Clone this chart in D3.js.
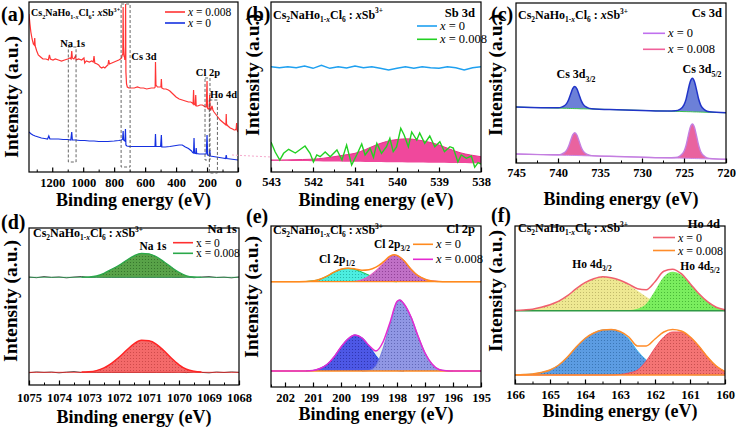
<!DOCTYPE html>
<html><head><meta charset="utf-8">
<script src="https://cdn.jsdelivr.net/npm/d3@7"></script>
<style>
body{margin:0;background:#fff}
svg{display:block}
text{font-family:"Times New Roman","Liberation Serif",serif;white-space:pre}
</style>
</head><body>
<svg id="chart" width="736" height="429"></svg>
<script>
// ---------------- DATA ----------------
const dopings = ["0", "0.008"];
// (a) survey spectra
const surveyTicks = [1200,1000,800,600,400,200,0];
const redE = [1350,1344,1338,1330,1322,1316,1313,1310,1300,1290,1275,1260,1240,1225,1218,1212,1195,1180,1160,1140,1120,1100,1085,1078,1074,1070,1060,1050,1045,1030,1010,995,990,980,960,945,935,930,925,910,900,890,880,870,860,848,840,835,830,815,800,785,770,760,752,748,744,742,740,737,733,731,728,726,724,720,715,705,690,670,650,630,610,590,560,540,535,533,530,520,505,498,495,492,480,465,450,440,420,400,380,360,340,320,305,295,290,287,284,276,273,270,260,245,230,220,212,205,200,197,192,186,183,180,175,168,162,155,145,130,115,100,85,78,76,74,65,50,35,25,18,12,9,6,3,0];
const redV = [158,148,140,133,128,127,134,126,121,117,115,113,113,112,117,113,112,113,112,111,112,113,114,113,121,114,113,116,112,113,112,114,109,111,110,111,110,116,109,108,107,105,104,105,104,106,107,112,108,109,110,111,112,113,114,117,118,165,125,116,115,112,118,168,100,88,85,84,84,84,85,84,84,83,84,84,85,110,87,85,85,85,93,84,83,83,82,81,78,75,73,72,71,70,70,69,68,82,68,67,77,66,66,67,67,66,65,65,91,64,63,64,77,62,62,66,62,60,58,55,52,50,48,47,58,48,46,44,43,42,42,43,49,42,41,40];
const blueE = [1350,1340,1325,1310,1290,1270,1250,1230,1222,1215,1190,1160,1130,1100,1080,1074,1070,1050,1020,990,960,930,900,870,840,800,770,752,745,742,739,730,727,724,718,700,670,640,600,560,536,533,530,500,495,492,470,440,420,400,380,360,340,320,300,293,287,284,281,273,270,267,250,230,205,200,196,185,182,179,160,140,120,100,80,76,72,50,25,0];
const blueV = [40,38.5,37,36,35,34,33.5,33,36,33,33,33,32.5,32.5,32,40,32,32,31.5,31.5,31,31,30.5,30.5,30.5,31,31.5,32,33,41,32,31,43,27,26,25.5,25.5,25.5,25.5,25.5,25.5,38,25.5,25.5,37,25,25,25.5,26,26.5,27,27,25,23.5,21,19.5,19,34,19,18.5,24,18.5,18,18,18,37,17,16.5,22,16,15.5,15,14.5,14,13.5,17,13.5,13,12.5,12];
const surveyBoxes = [ // [E1,E2,v1,v2,label,labelE,labelV]
  [1096,1046,125,10,"Na 1s",1068,125],
  [755,697,168,5,"Cs 3d",607,112],
  [213,181,94,12,"Cl 2p",194,96],
  [185,133,72,-1,"Ho 4d",94,74]];

// (b) Sb 3d
const bTicks = [543,542,541,540,539,538];
const bBlueE = [543,542.8,542.6,542.4,542.2,542,541.8,541.6,541.4,541.2,541,540.8,540.6,540.4,540.2,540,539.8,539.6,539.4,539.2,539,538.8,538.6,538.4,538.2,538];
const bBlueV = [105.3,104.3,105.3,104.3,106,103.7,106.7,103.7,105.3,104,106,104.3,105.3,103.7,102,103.7,105.3,103.7,105.3,104.3,103.7,105.3,104.3,102,104.3,105.3];
const bGreenE = [543,542.9,542.79,542.7,542.58,542.42,542.19,542.07,541.99,541.91,541.83,541.71,541.59,541.43,541.31,541.2,541.08,540.96,540.84,540.76,540.64,540.56,540.48,540.37,540.25,540.17,540.09,540.01,539.91,539.83,539.73,539.65,539.53,539.46,539.34,539.22,539.1,538.98,538.87,538.74,538.66,538.55,538.47,538.35,538.23,538.15,538.07,538];
const bGreenV = [30,20,12,18.7,22.7,19,26,18.7,10,17,15.3,20,15.3,22,12,27,7,17,28,17,23.7,14.7,28.7,18.7,25.3,33.7,20.3,25,43.7,37,25.3,40,32,39,28.7,36,25.3,30.3,20.3,25.3,24,10,17,13.7,16,4.7,9.3,8];
const bFitE = [543,542.75,542.5,542.25,542,541.75,541.5,541.25,541,540.75,540.5,540.25,540,539.75,539.5,539.25,539,538.75,538.5,538.25,538];
const bFitV = [12,12,12.2,12.5,12.8,13.8,15.3,17,18.7,22.5,27,30.5,32.5,33.2,32,30,27,23,19.3,17,15.3];
const bFitBase = [11.3,11.2,11,10.9,10.7,10.6,10.5,10.3,10.2,10.1,10,9.8,9.7,9.6,9.4,9.3,9.2,9,8.9,8.8,8.7];

// (c) Cs 3d
const cTicks = [745,740,735,730,725,720];
const cE = [745,742,740,739.5,739,738.75,738.5,738.25,738,737.75,737.5,737.25,737,736.5,736,733,730,727,726,725.5,725,724.75,724.5,724.25,724,723.75,723.5,723.25,723,722.5,722,720];
const cUp = [56,55.3,55.2,56.1,59.1,63.0,68.8,74.3,76.4,74.2,68.6,62.6,58.6,55.4,54.3,53.3,52.6,51.9,52.2,53.6,58.1,63.9,73.2,81.5,84.7,81.3,72.9,63.7,57.6,52.8,51.2,50.3];
const cUpBase = [56,55.3,54.9,54.8,54.7,54.6,54.5,54.5,54.4,54.4,54.3,54.2,54.2,54.1,54.0,53.3,52.6,51.9,51.7,51.6,51.4,51.4,51.3,51.3,51.2,51.1,51.1,51.0,50.9,50.8,50.7,50.3];
const cLow = [9,8.4,8.2,9.2,12.3,16.4,22.4,28.1,30.3,28.0,22.2,16.1,11.9,8.6,7.4,6.5,5.8,5.2,5.5,7.0,11.7,17.8,27.1,35.7,39.0,35.6,26.8,17.5,11.2,6.3,4.6,3.7];
const cLowBase = [9,8.4,7.9,7.8,7.7,7.7,7.6,7.6,7.5,7.5,7.4,7.4,7.3,7.2,7.1,6.5,5.8,5.2,5.0,4.9,4.8,4.7,4.7,4.6,4.5,4.5,4.4,4.4,4.3,4.2,4.1,3.7];

// (d) Na 1s
const dTicks = [1075,1074,1073,1072,1071,1070,1069,1068];
const dUpBase = 107.7, dLowBase = 12.7;
const dPeakE = [1073.25,1073,1072.75,1072.5,1072.25,1072,1071.75,1071.5,1071.25,1071,1070.75,1070.5,1070.25,1070,1069.75,1069.5,1069.25];
const dGreen = [0,0.3,1.3,4,8,12,17,21.5,24,23.5,20.5,15.5,10,5,1.5,0.3,0];
const dRed = [0.2,0.5,1.7,4.5,9,15,22,28.5,32,31.5,28,21.5,14,7.5,3,1,0.2];
const dRawE = [1075,1074.75,1074.5,1074.25,1074,1073.75,1073.5,1073.25,1073,1072.75,1072.5,1072.25,1072,1071.75,1071.5,1071.25,1071,1070.75,1070.5,1070.25,1070,1069.75,1069.5,1069.25,1069,1068.75,1068.5,1068.25,1068];
const dUpRaw = [107.9,107.3,108.3,107.6,108.0,107.2,107.9,108.4,107.5,107.9,107.7,107.7,107.7,107.7,107.7,107.7,107.7,107.7,107.7,107.7,107.6,108.1,107.3,107.9,108.3,107.5,107.8,107.2,108.0];
const dLowRaw = [12.3,13.0,12.6,12.9,12.2,12.8,13.3,12.5,12.9,12.7,12.7,12.7,12.7,12.7,12.7,12.7,12.7,12.7,12.7,12.7,12.9,12.4,13.1,12.6,12.2,12.9,12.5,13.0,12.6];

// (e) Cl 2p
const eTicks = [202,201,200,199,198,197,196,195];
const eUpBase = 105.3, eLowBase = 16;
const eAE = [201.25,201,200.75,200.5,200.25,200,199.75,199.5,199.25,199,198.75,198.5,198.25,198];
const eA = [0.2,0.8,2.5,5.5,9.5,12.5,13.3,12.3,9.5,6.5,3.5,1.5,0.5,0.1];
const eBE = [199.75,199.5,199.25,199,198.75,198.5,198.25,198.1,198,197.75,197.5,197.25,197,196.75,196.5];
const eB = [0.2,0.5,2,5.5,11,18,25,26.7,26.2,21,12.5,6,2.5,0.8,0.2];
const eUE = [202.5,201.5,201.25,201,200.75,200.5,200.25,200,199.75,199.5,199.25,199,198.75,198.5,198.25,198.1,198,197.75,197.5,197.25,197,196.75,196.5,196.25,195];
const eU = [0,0.05,0.2,0.8,2.5,5.5,9.5,12.5,13.5,12.8,11.5,12,14.5,19.5,25.5,26.9,26.3,21,12.5,6,2.5,0.8,0.2,0,0];
const eCE = [201.25,201,200.75,200.5,200.25,200,199.75,199.5,199.25,199,198.75,198.5,198.25,198,197.75];
const eC = [0.1,0.5,2.5,6.5,14,24,32,36,33,25,15,7,2.5,0.5,0];
const eDE = [199.25,199,198.75,198.5,198.25,198,197.9,197.75,197.5,197.25,197,196.75,196.5,196.25,196];
const eD = [0,0.5,5,22,46,69,71,67,54,35,18,7,1.5,0.3,0];
const eLE = [202.5,201.25,201,200.75,200.5,200.25,200,199.75,199.5,199.25,199,198.75,198.5,198.25,198,197.9,197.75,197.5,197.25,197,196.75,196.5,196.25,196,195];
const eL = [0,0.1,0.5,2.5,6.5,14,24,32,36,33,25.5,20,29,48.5,69.5,71,67,54,35,18,7,1.5,0.3,0,0];

// (f) Ho 4d
const fTicks = [166,165,164,163,162,161,160];
const fUpBase = 73.3, fLowBase = 9;
const fE = [166,165.75,165.5,165.25,165,164.75,164.5,164.25,164,163.75,163.5,163.25,163,162.75,162.5,162.25,162,161.75,161.5,161.25,161,160.75,160.5,160.25,160];
const fYellow = [0.3,0.8,1.5,3.5,6,9.5,15,22,28,32,34,33,30.5,26,20,14,9,5.5,2.5,1,0.3,0.1,0,0,0];
const fGreen = [0,0,0,0,0,0,0,0,0,0,0,0,0,0.5,2,7,20,34,39,36,27,17,9,3.5,1];
const fUpEnv = [0.3,0.8,1.5,3.5,6,9.5,15,22,28,32,34,33,30.5,26.5,22,21,29,39.5,41.5,37,27.3,17.1,9,3.5,1];
const fBlue = [0.2,0.5,1,2.5,5,10,18,28,36.5,42,45,45.5,43,36,24,15,9,5,2.5,1,0.3,0.1,0,0,0];
const fRed = [0,0,0,0,0,0,0,0,0,0,0,0,0.5,2,5,14,27,38,43,43,38,29,18,9,3.5];
const fLowEnv = [0.2,0.5,1,2.5,5,10,18,28,36.5,42,45,45.5,43.5,38,29,29,36,43,45.5,44,38.3,29.1,18,9,3.5];

// ---------------- DRAWING ----------------
const svg = d3.select("#chart");
const defs = svg.append("defs");
const FONT = '"Times New Roman","Liberation Serif",serif';

function pat(id, bg, dot) {
  const p = defs.append("pattern").attr("id", id).attr("width", 3).attr("height", 3).attr("patternUnits", "userSpaceOnUse");
  p.append("rect").attr("width", 3).attr("height", 3).attr("fill", bg);
  p.append("circle").attr("cx", 1.5).attr("cy", 1.5).attr("r", 0.55).attr("fill", dot);
  return "url(#" + id + ")";
}

function T(sel, x, y, size, o) {
  o = o || {};
  const t = sel.append("text").attr("x", x).attr("y", y).attr("font-size", size).attr("font-family", FONT).attr("fill", "#000");
  if (o.bold !== false) t.attr("font-weight", "bold");
  if (o.anchor) t.attr("text-anchor", o.anchor);
  return t;
}

function chem(sel, x, y, size, sep) {
  const t = T(sel, x, y, size);
  const s = size * 0.62, dn = size * 0.28, up = size * 0.42;
  t.append("tspan").text("Cs");
  t.append("tspan").attr("font-size", s).attr("dy", dn).text("2");
  t.append("tspan").attr("dy", -dn).text("NaHo");
  t.append("tspan").attr("font-size", s).attr("dy", dn).text("1-");
  t.append("tspan").attr("font-size", s).attr("font-style", "italic").text("x");
  t.append("tspan").attr("dy", -dn).text("Cl");
  t.append("tspan").attr("font-size", s).attr("dy", dn).text("6");
  t.append("tspan").attr("dy", -dn).text(sep);
  t.append("tspan").attr("font-style", "italic").text("x");
  t.append("tspan").text("Sb");
  t.append("tspan").attr("font-size", s).attr("dy", -up).text("3+");
}

function subText(sel, x, y, size, main, sub, anchor) {
  const t = T(sel, x, y, size, {anchor: anchor || "middle"});
  t.append("tspan").text(main);
  t.append("tspan").attr("font-size", size * 0.65).attr("dy", size * 0.3).text(sub);
}

function legendItem(sel, x1, x2, y, color, value, italic, size) {
  sel.append("line").attr("x1", x1).attr("x2", x2).attr("y1", y).attr("y2", y).attr("stroke", color).attr("stroke-width", 1.6);
  const t = T(sel, x2 + 3, y + 4, size, {bold: false});
  t.append("tspan").attr("font-style", italic ? "italic" : "normal").text("x");
  t.append("tspan").text(" = " + value);
}

function minorsOf(ticks) {
  const out = [];
  for (let i = 0; i < ticks.length - 1; i++) out.push((ticks[i] + ticks[i + 1]) / 2);
  return out;
}

function panel(c) {
  const x = d3.scaleLinear().domain(c.xdom).range([c.left, c.right]);
  const y = d3.scaleLinear().domain(c.ydom).range([c.bottom, c.top]);
  const cid = "clip-" + c.id;
  defs.append("clipPath").attr("id", cid).append("rect")
    .attr("x", c.left).attr("y", c.top).attr("width", c.right - c.left).attr("height", c.bottom - c.top);
  const plot = svg.append("g").attr("clip-path", "url(#" + cid + ")");
  const top = svg.append("g");
  let minors = minorsOf(c.majors);
  if (c.extraMinors) minors = minors.concat(c.extraMinors);
  const gm = top.append("g").attr("transform", "translate(0," + c.bottom + ")")
    .call(d3.axisBottom(x).tickValues(minors).tickSize(-2.5).tickFormat(""));
  gm.select(".domain").remove();
  gm.selectAll("line").attr("stroke-width", 1);
  const ga = top.append("g").attr("transform", "translate(0," + c.bottom + ")")
    .call(d3.axisBottom(x).tickValues(c.majors).tickSize(-4.5).tickPadding(c.pad).tickFormat(d3.format("d")));
  ga.select(".domain").remove();
  ga.selectAll("line").attr("stroke-width", 1.2);
  ga.selectAll("text").attr("font-family", FONT).attr("font-weight", "bold").attr("font-size", 12.5).attr("fill", "#000");
  top.append("rect").attr("x", c.left).attr("y", c.top).attr("width", c.right - c.left).attr("height", c.bottom - c.top)
    .attr("fill", "none").attr("stroke", "#000").attr("stroke-width", 1.2);
  T(top, (c.left + c.right) / 2, c.xtY, 18, {anchor: "middle"}).text("Binding energy (eV)");
  top.append("text").attr("transform", "translate(" + c.ytX + "," + c.ytY + ") rotate(-90)")
    .attr("text-anchor", "middle").attr("font-size", 19.5).attr("font-weight", "bold").attr("font-family", FONT).text("Intensity (a.u.)");
  T(top, c.lx, c.ly, 20).text(c.letter);
  return {x, y, plot, top};
}

const lineGen = (p, curve) => d3.line().x(d => p.x(d[0])).y(d => p.y(d[1])).curve(curve || d3.curveLinear);
const areaGen = (p) => d3.area().x(d => p.x(d[0])).y0(d => p.y(d[2])).y1(d => p.y(d[1])).curve(d3.curveMonotoneX);
const mono = d3.curveMonotoneX;

// ===== (a) =====
{
  const p = panel({id: "a", left: 29, right: 238, top: 2, bottom: 172, xdom: [1350, 0], ydom: [0, 170],
    majors: surveyTicks, extraMinors: [1300], pad: 6, xtY: 206, ytX: 18, ytY: 97, lx: 1, ly: 21, letter: "(a)"});
  p.plot.append("path").datum(d3.zip(blueE, blueV)).attr("d", lineGen(p)).attr("fill", "none").attr("stroke", "#1530e0").attr("stroke-width", 1.2);
  p.plot.append("path").datum(d3.zip(redE, redV)).attr("d", lineGen(p)).attr("fill", "none").attr("stroke", "#ff3434").attr("stroke-width", 1.2);
  surveyBoxes.forEach(b => {
    p.top.append("rect").attr("x", p.x(b[0])).attr("y", p.y(b[2])).attr("width", p.x(b[1]) - p.x(b[0])).attr("height", p.y(b[3]) - p.y(b[2]))
      .attr("fill", "none").attr("stroke", "#555").attr("stroke-width", 0.9).attr("stroke-dasharray", "3,2");
    T(p.top, p.x(b[5]), p.y(b[6]), 10.5, {anchor: "middle"}).text(b[4]);
  });
  chem(p.top, 31, 16, 10, ": ");
  legendItem(p.top, 165, 185, 12, "#ff3434", dopings[1], true, 11.5);
  legendItem(p.top, 165, 185, 23, "#1530e0", dopings[0], true, 11.5);
  svg.append("line").attr("x1", 232).attr("x2", 271).attr("y1", 155).attr("y2", 157).attr("stroke", "#f5a8cc").attr("stroke-width", 1).attr("stroke-dasharray", "2,2");
}

// ===== (b) =====
{
  const p = panel({id: "b", left: 271, right: 481, top: 2, bottom: 172, xdom: [543, 538], ydom: [0, 170],
    majors: bTicks, pad: 5, xtY: 206, ytX: 259, ytY: 75, lx: 246, ly: 21, letter: "(b)"});
  const fit = bFitE.map((e, i) => [e, bFitV[i], bFitBase[i]]);
  p.plot.append("path").datum(fit).attr("d", areaGen(p)).attr("fill", "#f0489c");
  p.plot.append("path").datum(fit).attr("d", lineGen(p, mono)).attr("fill", "none").attr("stroke", "#e8308a").attr("stroke-width", 1);
  p.plot.append("path").datum(d3.zip(bGreenE, bGreenV)).attr("d", lineGen(p)).attr("fill", "none").attr("stroke", "#22d022").attr("stroke-width", 1.4);
  p.plot.append("path").datum(d3.zip(bBlueE, bBlueV)).attr("d", lineGen(p)).attr("fill", "none").attr("stroke", "#1ea0f0").attr("stroke-width", 1.4);
  chem(p.top, 273, 18.5, 12, " : ");
  T(p.top, 475, 17, 12.5, {anchor: "end"}).text("Sb 3d");
  legendItem(p.top, 417, 437, 26, "#1ea0f0", dopings[0], true, 12.5);
  legendItem(p.top, 417, 437, 39.3, "#22d022", dopings[1], true, 12.5);
}

// ===== (c) =====
{
  const p = panel({id: "c", left: 516, right: 726, top: 3, bottom: 163, xdom: [745, 720], ydom: [0, 160],
    majors: cTicks, pad: 5, xtY: 205, ytX: 502, ytY: 75, lx: 491, ly: 21, letter: "(c)"});
  const up = cE.map((e, i) => [e, cUp[i], cUpBase[i]]);
  const low = cE.map((e, i) => [e, cLow[i], cLowBase[i]]);
  p.plot.append("path").datum(low).attr("d", areaGen(p)).attr("fill", "#e9639f");
  p.plot.append("path").datum(cE.map((e, i) => [e, cLowBase[i]])).attr("d", lineGen(p)).attr("fill", "none").attr("stroke", "#c888e8").attr("stroke-width", 1);
  p.plot.append("path").datum(low).attr("d", lineGen(p, mono)).attr("fill", "none").attr("stroke", "#c47ee0").attr("stroke-width", 1.4);
  p.plot.append("path").datum(up).attr("d", areaGen(p)).attr("fill", "#6c80d8");
  p.plot.append("path").datum(cE.map((e, i) => [e, cUpBase[i]])).attr("d", lineGen(p)).attr("fill", "none").attr("stroke", "#3cc050").attr("stroke-width", 1);
  p.plot.append("path").datum(up).attr("d", lineGen(p, mono)).attr("fill", "none").attr("stroke", "#2034c8").attr("stroke-width", 1.5);
  chem(p.top, 518, 19, 12, " : ");
  T(p.top, 722, 17, 12.5, {anchor: "end"}).text("Cs 3d");
  legendItem(p.top, 643, 665, 33.3, "#c070ee", dopings[0], true, 12.5);
  legendItem(p.top, 643, 665, 49.3, "#f0609a", dopings[1], true, 12.5);
  subText(p.top, 576, 78, 12, "Cs 3d", "3/2");
  subText(p.top, 702, 73, 12, "Cs 3d", "5/2");
}

// ===== (d) =====
{
  const p = panel({id: "d", left: 29, right: 239, top: 228, bottom: 385, xdom: [1075, 1068], ydom: [0, 157],
    majors: dTicks, pad: 8, xtY: 423, ytX: 17, ytY: 301, lx: 1, ly: 229, letter: "(d)"});
  p.plot.append("path").datum(d3.zip(dRawE, dUpRaw)).attr("d", lineGen(p)).attr("fill", "none").attr("stroke", "#333").attr("stroke-width", 1);
  p.plot.append("path").datum(d3.zip(dRawE, dLowRaw)).attr("d", lineGen(p)).attr("fill", "none").attr("stroke", "#333").attr("stroke-width", 1);
  const g = dPeakE.map((e, i) => [e, dUpBase + dGreen[i], dUpBase]);
  const r = dPeakE.map((e, i) => [e, dLowBase + dRed[i], dLowBase]);
  p.plot.append("path").datum(g).attr("d", areaGen(p)).attr("fill", pat("pg", "#58a248", "#2f6e28"));
  p.plot.append("path").datum(g).attr("d", lineGen(p, mono)).attr("fill", "none").attr("stroke", "#2aa84a").attr("stroke-width", 1.3);
  p.plot.append("line").attr("x1", p.x(1075)).attr("x2", p.x(1068)).attr("y1", p.y(dUpBase)).attr("y2", p.y(dUpBase)).attr("stroke", "#3aa860").attr("stroke-width", 0.8);
  p.plot.append("path").datum(r).attr("d", areaGen(p)).attr("fill", pat("pr", "#f46a6a", "#c94444"));
  p.plot.append("path").datum(r).attr("d", lineGen(p, mono)).attr("fill", "none").attr("stroke", "#ff2424").attr("stroke-width", 1.5);
  p.plot.append("line").attr("x1", p.x(1075)).attr("x2", p.x(1068)).attr("y1", p.y(dLowBase)).attr("y2", p.y(dLowBase)).attr("stroke", "#ff3030").attr("stroke-width", 0.8);
  chem(p.top, 33, 237, 12, " : ");
  T(p.top, 237, 233, 12.5, {anchor: "end"}).text("Na 1s");
  legendItem(p.top, 173, 193, 242.7, "#ff3030", dopings[0], false, 11.5);
  legendItem(p.top, 173, 193, 253.3, "#2aa84a", dopings[1], false, 11.5);
  T(p.top, 153, 250, 11.5, {anchor: "middle"}).text("Na 1s");
}

// ===== (e) =====
{
  const p = panel({id: "e", left: 271, right: 481, top: 226, bottom: 387, xdom: [202.5, 195], ydom: [0, 161],
    majors: eTicks, extraMinors: [202.5], pad: 6.5, xtY: 420, ytX: 258, ytY: 297, lx: 246, ly: 223, letter: "(e)"});
  const mk = (E, V, base) => E.map((e, i) => [e, base + V[i], base]);
  const A = mk(eAE, eA, eUpBase), B = mk(eBE, eB, eUpBase), U = mk(eUE, eU, eUpBase);
  const C = mk(eCE, eC, eLowBase), D = mk(eDE, eD, eLowBase), L = mk(eLE, eL, eLowBase);
  p.plot.append("path").datum(L).attr("d", areaGen(p)).attr("fill", "#eef6ee");
  p.plot.append("path").datum(C).attr("d", areaGen(p)).attr("fill", pat("pc", "#4d58e6", "#2a30a8"));
  p.plot.append("path").datum(C).attr("d", lineGen(p, mono)).attr("fill", "none").attr("stroke", "#2050e8").attr("stroke-width", 1.1);
  p.plot.append("path").datum(D).attr("d", areaGen(p)).attr("fill", pat("pd", "#9097e4", "#5a60b0"));
  p.plot.append("path").datum(D).attr("d", lineGen(p, mono)).attr("fill", "none").attr("stroke", "#7c84e0").attr("stroke-width", 1.1);
  p.plot.append("line").attr("x1", p.x(202.5)).attr("x2", p.x(195)).attr("y1", p.y(eLowBase)).attr("y2", p.y(eLowBase)).attr("stroke", "#ff8a1e").attr("stroke-width", 1.4);
  p.plot.append("path").datum(L).attr("d", lineGen(p, mono)).attr("fill", "none").attr("stroke", "#e42ad0").attr("stroke-width", 1.5);
  p.plot.append("path").datum(A).attr("d", areaGen(p)).attr("fill", pat("pa", "#4ceee0", "#22b0a2"));
  p.plot.append("path").datum(A).attr("d", lineGen(p, mono)).attr("fill", "none").attr("stroke", "#22c85a").attr("stroke-width", 1.1);
  p.plot.append("path").datum(B).attr("d", areaGen(p)).attr("fill", pat("pb", "#c070c6", "#8a3a90"));
  p.plot.append("path").datum(B).attr("d", lineGen(p, mono)).attr("fill", "none").attr("stroke", "#e060c0").attr("stroke-width", 1.1);
  p.plot.append("line").attr("x1", p.x(202.5)).attr("x2", p.x(195)).attr("y1", p.y(eUpBase)).attr("y2", p.y(eUpBase)).attr("stroke", "#ff8a1e").attr("stroke-width", 1.3);
  p.plot.append("path").datum(U).attr("d", lineGen(p, mono)).attr("fill", "none").attr("stroke", "#ff8a1e").attr("stroke-width", 1.5);
  chem(p.top, 273, 234, 12, " : ");
  T(p.top, 475, 233, 12.5, {anchor: "end"}).text("Cl 2p");
  legendItem(p.top, 413, 433, 244.3, "#ff8a1e", dopings[0], true, 12.5);
  legendItem(p.top, 413, 433, 259.3, "#e42ad0", dopings[1], true, 12.5);
  subText(p.top, 337, 263, 11.5, "Cl 2p", "1/2");
  subText(p.top, 392, 248, 11.5, "Cl 2p", "3/2");
}

// ===== (f) =====
{
  const p = panel({id: "f", left: 515, right: 725, top: 226, bottom: 384, xdom: [166, 160], ydom: [0, 158],
    majors: fTicks, pad: 6, xtY: 417, ytX: 502, ytY: 291, lx: 491, ly: 222, letter: "(f)"});
  const mk = (V, base) => fE.map((e, i) => [e, base + V[i], base]);
  p.plot.append("path").datum(mk(fBlue, fLowBase)).attr("d", areaGen(p)).attr("fill", pat("pfb", "#5c9ce2", "#3570b0"));
  p.plot.append("path").datum(mk(fBlue, fLowBase)).attr("d", lineGen(p, mono)).attr("fill", "none").attr("stroke", "#40b4f0").attr("stroke-width", 1);
  p.plot.append("path").datum(mk(fRed, fLowBase)).attr("d", areaGen(p)).attr("fill", pat("pfr", "#f47474", "#c04848"));
  p.plot.append("path").datum(mk(fRed, fLowBase)).attr("d", lineGen(p, mono)).attr("fill", "none").attr("stroke", "#f05060").attr("stroke-width", 1);
  p.plot.append("line").attr("x1", p.x(166)).attr("x2", p.x(160)).attr("y1", p.y(fLowBase)).attr("y2", p.y(fLowBase)).attr("stroke", "#ff8c2a").attr("stroke-width", 1.4);
  p.plot.append("path").datum(mk(fLowEnv, fLowBase)).attr("d", lineGen(p, mono)).attr("fill", "none").attr("stroke", "#ff8c2a").attr("stroke-width", 1.5);
  p.plot.append("path").datum(mk(fYellow, fUpBase)).attr("d", areaGen(p)).attr("fill", pat("pfy", "#eee892", "#bab264"));
  p.plot.append("path").datum(mk(fGreen, fUpBase)).attr("d", areaGen(p)).attr("fill", pat("pfg", "#7aee5e", "#40b030"));
  p.plot.append("line").attr("x1", p.x(166)).attr("x2", p.x(160)).attr("y1", p.y(fUpBase)).attr("y2", p.y(fUpBase)).attr("stroke", "#2f9a45").attr("stroke-width", 1.4);
  p.plot.append("path").datum(mk(fUpEnv, fUpBase)).attr("d", lineGen(p, mono)).attr("fill", "none").attr("stroke", "#f0606e").attr("stroke-width", 1.5);
  chem(p.top, 518, 232, 12, " : ");
  T(p.top, 720, 227.5, 12.5, {anchor: "end"}).text("Ho 4d");
  legendItem(p.top, 653, 675, 237.5, "#f0606e", dopings[0], true, 12);
  legendItem(p.top, 653, 675, 250.5, "#ff8c2a", dopings[1], true, 12);
  subText(p.top, 592, 268, 11.5, "Ho 4d", "3/2");
  subText(p.top, 700, 270, 11.5, "Ho 4d", "5/2");
}
</script>
</body></html>
